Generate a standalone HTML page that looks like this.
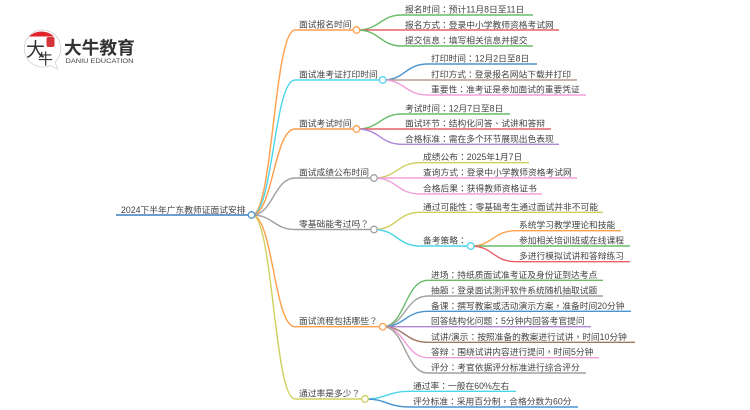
<!DOCTYPE html>
<html><head><meta charset="utf-8">
<style>
html,body{margin:0;padding:0;background:#fff;width:750px;height:410px;overflow:hidden}
svg{display:block;filter:blur(.35px)}
text{font-family:"Liberation Sans","Noto Sans CJK SC",sans-serif;font-size:8.750px;fill:#444}
tspan{font-family:"Noto Sans CJK TC",sans-serif}
path{fill:none;stroke-width:1.400}
circle{fill:#fff;stroke-width:1.300}
</style></head><body>
<svg width="750" height="410" viewBox="0 0 750 410" xmlns="http://www.w3.org/2000/svg">
<!-- logo -->
<path d="M42 30A18.5 18.5 0 1 0 50 65.5L57.5 69L55 62A18.5 18.5 0 0 0 42 30Z" style="stroke:#ccc;stroke-width:.7"/>
<path d="M29 36.500A18 18 0 0 1 54 36.500Z" style="fill:#e2232a;stroke:none"/>
<rect x="46.500" y="37" width="8" height="10" rx="2" fill="#d4343a"/>
<text x="26" y="56" style="font-size:19px;fill:#333">大</text>
<text x="38" y="64" style="font-size:15px;fill:#333">牛</text>
<text x="64" y="54" style="font-size:17.700px;font-weight:bold;fill:#333">大牛教育</text>
<text x="65.500" y="63" textLength="68" lengthAdjust="spacingAndGlyphs" style="font-size:6.500px;fill:#444">DANIU EDUCATION</text>

<!-- root -->
<path d="M116 215H252" style="stroke:#6a9fd0;stroke-width:2"/>
<!-- level1 -->
<path d="M252 215C273 215 274 30 295 30H356" stroke="#ff9f4a"/>
<path d="M252 215C273 215 274 80 295 80H382" stroke="#4dd5e8"/>
<path d="M252 215C273 215 274 129 295 129H356" stroke="#ff9f4a"/>
<path d="M252 215C273 215 274 178 295 178H374" stroke="#a0a0a0"/>
<path d="M252 215C273 215 274 229.500 295 229.500H374" stroke="#a0a0a0"/>
<path d="M252 215C273 215 274 326.700 295 326.700H382" stroke="#ff9f4a"/>
<path d="M252 215C273 215 274 399 295 399H365" stroke="#cfcf60"/>
<!-- group1 -->
<path d="M357 30C380 30 380 15 402 15H533" stroke="#6abb6a"/>
<path d="M357 30H559" stroke="#e8606a"/>
<path d="M357 30C380 30 380 46 402 46H533" stroke="#6abb6a"/>
<!-- group2 -->
<path d="M383 80C405 80 405 64 428 64H537" stroke="#4a94d0"/>
<path d="M383 80H577" stroke="#bc9a94"/>
<path d="M383 80C405 80 405 95 428 95H586" stroke="#f0a0d8"/>
<!-- group3 -->
<path d="M357 129C380 129 380 114 402 114H510" stroke="#6abb6a"/>
<path d="M357 129H551" stroke="#e8606a"/>
<path d="M357 129C380 129 380 144.300 402 144.300H559" stroke="#b088d8"/>
<!-- group4 -->
<path d="M374 178C397 178 397 162.700 420 162.700H529" stroke="#cfcf60"/>
<path d="M374 178H577" stroke="#f0a0d8"/>
<path d="M374 178C397 178 397 194 420 194H542" stroke="#f0a0d8"/>
<!-- group5 -->
<path d="M374 229.500C397 229.500 397 212.300 420 212.300H603" stroke="#cfcf60"/>
<path d="M374 229.500C397 229.500 397 246 420 246H471" stroke="#4dd5e8"/>
<path d="M471 246C493 246 493 230.700 516 230.700H621" stroke="#ff9f4a"/>
<path d="M471 246H630" stroke="#6abb6a"/>
<path d="M471 246C493 246 493 261.700 516 261.700H630" stroke="#e8606a"/>
<!-- group6 -->
<path d="M383 326.700C405 326.700 405 280.300 428 280.300H603" stroke="#6abb6a"/>
<path d="M383 326.700C405 326.700 405 296 428 296H603" stroke="#a0a0a0"/>
<path d="M383 326.700C405 326.700 405 311.300 428 311.300H631" stroke="#4a94d0"/>
<path d="M383 326.700H591" stroke="#b088d8"/>
<path d="M383 326.700C405 326.700 405 342.300 428 342.300H635" stroke="#a07868"/>
<path d="M383 326.700C405 326.700 405 357.700 428 357.700H599" stroke="#f0a0d8"/>
<path d="M383 326.700C405 326.700 405 373 428 373H586" stroke="#a0a0a0"/>
<!-- group7 -->
<path d="M365 399C387 399 387 391.300 410 391.300H516" stroke="#4dd5e8"/>
<path d="M365 399C387 399 387 407 410 407H578" stroke="#4a94d0"/>
<!-- circles -->
<circle cx="251.500" cy="215" r="3.300" stroke="#4a94d0"/>
<circle cx="356.500" cy="30" r="3.300" stroke="#ff9f4a"/>
<circle cx="382.700" cy="80" r="3.300" stroke="#4dd5e8"/>
<circle cx="356.500" cy="129" r="3.300" stroke="#ff9f4a"/>
<circle cx="374" cy="178" r="3.300" stroke="#a0a0a0"/>
<circle cx="374" cy="229.500" r="3.300" stroke="#a0a0a0"/>
<circle cx="470.700" cy="246" r="3.300" stroke="#4dd5e8"/>
<circle cx="382.700" cy="326.700" r="3.300" stroke="#ff9f4a"/>
<circle cx="365" cy="399" r="3.300" stroke="#cfcf60"/>
<!-- text -->
<text x="121" y="213">2024下半年广东教师证面试安排</text>
<text x="299" y="27.500">面试报名时间</text>
<text x="299" y="77.500">面试准考证打印时间</text>
<text x="299" y="126.500">面试考试时间</text>
<text x="299" y="175.500">面试成绩公布时间</text>
<text x="299" y="227">零基础能考过吗<tspan>？</tspan></text>
<text x="299" y="324">面试流程包括哪些<tspan>？</tspan></text>
<text x="299" y="396.500">通过率是多少<tspan>？</tspan></text>

<text x="405" y="12.500">报名时间<tspan>：</tspan>预计11月8日至11日</text>
<text x="405" y="28">报名方式<tspan>：</tspan>登录中小学教师资格考试网</text>
<text x="405" y="43.500">提交信息<tspan>：</tspan>填写相关信息并提交</text>
<text x="431" y="61.500">打印时间<tspan>：</tspan>12月2日至8日</text>
<text x="431" y="77.500">打印方式<tspan>：</tspan>登录报名网站下载并打印</text>
<text x="431" y="92.500">重要性<tspan>：</tspan>准考证是参加面试的重要凭证</text>
<text x="405" y="111.500">考试时间<tspan>：</tspan>12月7日至8日</text>
<text x="405" y="126.500">面试环节<tspan>：</tspan>结构化问答<tspan>、</tspan>试讲和答辩</text>
<text x="405" y="142">合格标准<tspan>：</tspan>需在多个环节展现出色表现</text>
<text x="423" y="160">成绩公布<tspan>：</tspan>2025年1月7日</text>
<text x="423" y="175.500">查询方式<tspan>：</tspan>登录中小学教师资格考试网</text>
<text x="423" y="191.500">合格后果<tspan>：</tspan>获得教师资格证书</text>
<text x="423" y="210">通过可能性<tspan>：</tspan>零基础考生通过面试并非不可能</text>
<text x="423" y="243.500">备考策略<tspan>：</tspan></text>
<text x="519" y="228">系统学习教学理论和技能</text>
<text x="519" y="243.500">参加相关培训班或在线课程</text>
<text x="519" y="259">多进行模拟试讲和答辩练习</text>
<text x="431" y="277.800">进场<tspan>：</tspan>持纸质面试准考证及身份证到达考点</text>
<text x="431" y="293.500">抽题<tspan>：</tspan>登录面试测评软件系统随机抽取试题</text>
<text x="431" y="308.800">备课<tspan>：</tspan>撰写教案或活动演示方案<tspan>，</tspan>准备时间20分钟</text>
<text x="431" y="324">回答结构化问题<tspan>：</tspan>5分钟内回答考官提问</text>
<text x="431" y="339.800">试讲/演示<tspan>：</tspan>按照准备的教案进行试讲<tspan>，</tspan>时间10分钟</text>
<text x="431" y="355">答辩<tspan>：</tspan>围绕试讲内容进行提问<tspan>，</tspan>时间5分钟</text>
<text x="431" y="370.500">评分<tspan>：</tspan>考官依据评分标准进行综合评分</text>
<text x="413" y="388.800">通过率<tspan>：</tspan>一般在60%左右</text>
<text x="413" y="404.500">评分标准<tspan>：</tspan>采用百分制<tspan>，</tspan>合格分数为60分</text>
</svg>
</body></html>
